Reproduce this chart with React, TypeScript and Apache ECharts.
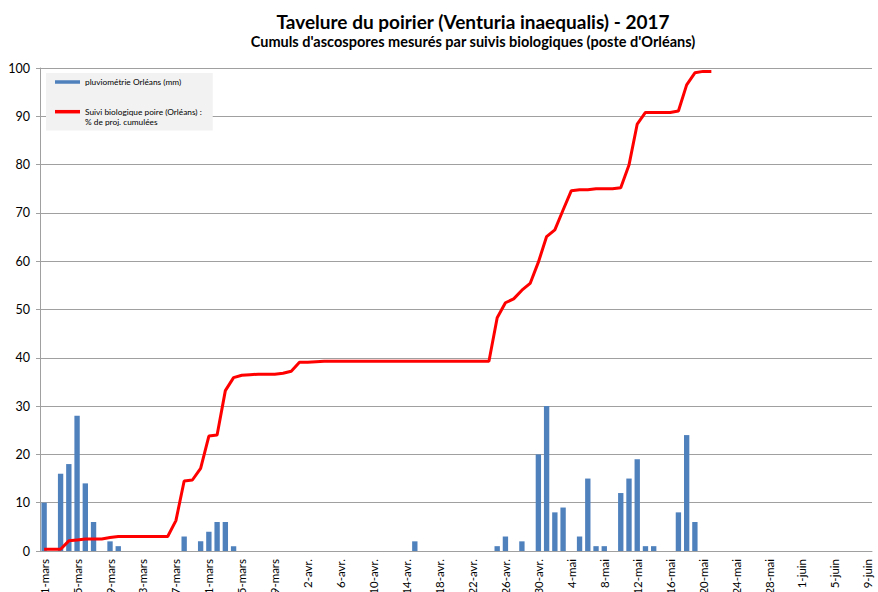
import React, { useEffect, useRef } from "react";
import * as echarts from "echarts";

// ---- Data ----
const monthNames = ["mars", "avr.", "mai", "juin"];
const monthDays = [31, 30, 31, 9];

// Daily rainfall (mm), Orléans
const pluieMars = [10, 0, 16, 18, 28, 14, 6, 0, 2, 1, 0, 0, 0, 0, 0, 0, 0, 3, 0, 2, 4, 6, 6, 1, 0, 0, 0, 0, 0, 0, 0];
const pluieAvril = [0, 0, 0, 0, 0, 0, 0, 0, 0, 0, 0, 0, 0, 0, 2, 0, 0, 0, 0, 0, 0, 0, 0, 0, 1, 3, 0, 2, 0, 20];
const pluieMai = [30, 8, 9, 0, 3, 15, 1, 1, 0, 12, 15, 19, 1, 1, 0, 0, 8, 24, 6, 0, 0, 0, 0, 0, 0, 0, 0, 0, 0, 0, 0];
const pluieJuin = [0, 0, 0, 0, 0, 0, 0, 0, 0];

// Cumulative % of projected ascospores (pear biological monitoring, Orléans)
const projMars = [0.35, 0.35, 0.35, 2.1, 2.3, 2.5, 2.5, 2.5, 2.8, 3.0, 3.0, 3.0, 3.0, 3.0, 3.0, 3.0, 6.3, 14.5, 14.7, 17.1, 23.8, 24.0, 33.2, 35.9, 36.4, 36.5, 36.6, 36.6, 36.6, 36.8, 37.2];
const projAvril = [39.1, 39.1, 39.2, 39.3, 39.3, 39.3, 39.3, 39.3, 39.3, 39.3, 39.3, 39.3, 39.3, 39.3, 39.3, 39.3, 39.3, 39.3, 39.3, 39.3, 39.3, 39.3, 39.3, 39.3, 48.3, 51.4, 52.2, 54.0, 55.4, 59.8];
const projMai = [65.1, 66.5, 70.6, 74.6, 74.8, 74.8, 75.0, 75.0, 75.0, 75.2, 79.9, 88.4, 90.8, 90.8, 90.8, 90.8, 91.1, 96.5, 99.0, 99.3, 99.3];

const yTicks = { min: 0, max: 100, interval: 10 };

const categories: string[] = [];
monthNames.forEach((m, mi) => {
  for (let d = 1; d <= monthDays[mi]; d++) categories.push(`${d}-${m}`);
});

const pluie = [...pluieMars, ...pluieAvril, ...pluieMai, ...pluieJuin].map((v) => (v > 0 ? v : null));
const proj = [...projMars, ...projAvril, ...projMai];

const FONT = "Lato";
const NAME_PLUIE = "pluviométrie Orléans (mm)";
const NAME_PROJ_1 = "Suivi biologique poire (Orléans) :";
const NAME_PROJ_2 = "% de proj. cumulées";
const NAME_PROJ = NAME_PROJ_1 + " " + NAME_PROJ_2;

export default function App() {
  const ref = useRef<HTMLDivElement>(null);
  useEffect(() => {
    if (!ref.current) return;
    const chart = echarts.init(ref.current, null, { renderer: "svg" });
    chart.setOption({
      animation: false,
      backgroundColor: "#ffffff",
      textStyle: { fontFamily: FONT },
      title: {
        text: "Tavelure du poirier (Venturia inaequalis) - 2017",
        subtext: "Cumuls d'ascospores mesurés par suivis biologiques (poste d'Orléans)",
        left: 468,
        top: 7,
        textAlign: "center",
        itemGap: 3,
        textStyle: { fontFamily: FONT, fontWeight: "bold", fontSize: 19, color: "#000" },
        subtextStyle: { fontFamily: FONT, fontWeight: "bold", fontSize: 14.5, color: "#000" },
      },
      legend: {
        orient: "vertical",
        left: 46,
        top: 73,
        padding: [5, 11, 4, 9],
        backgroundColor: "#F2F2F2",
        itemWidth: 25,
        itemHeight: 3.5,
        itemGap: 11,
        icon: "rect",
        data: [NAME_PLUIE, NAME_PROJ],
        formatter: (name: string) =>
          name === NAME_PROJ
            ? `{gap| }\n{a|${NAME_PROJ_1}}\n{a|${NAME_PROJ_2}}`
            : `{a|${name}}`,
        textStyle: {
          fontFamily: FONT,
          fontSize: 8.3,
          color: "#000",
          rich: {
            a: { fontFamily: FONT, fontSize: 8.3, color: "#000", lineHeight: 10.7 },
            gap: { fontSize: 8.3, lineHeight: 10.7 },
          },
        },
      },
      grid: { left: 40, right: 6, top: 68, bottom: 41, containLabel: false, outerBoundsMode: "none" },
      xAxis: {
        type: "category",
        data: categories,
        boundaryGap: true,
        axisLine: { lineStyle: { color: "#A0A0A0", width: 1 } },
        axisTick: { interval: 3, length: 5, lineStyle: { color: "#A0A0A0" } },
        axisLabel: {
          interval: 3,
          rotate: 90,
          margin: 8,
          fontFamily: FONT,
          fontSize: 11.5,
          color: "#000",
        },
        splitLine: { show: false },
      },
      yAxis: {
        type: "value",
        min: yTicks.min,
        max: yTicks.max,
        interval: yTicks.interval,
        axisLine: { show: true, lineStyle: { color: "#A0A0A0" } },
        axisTick: { show: true, length: 4, lineStyle: { color: "#A0A0A0" } },
        axisLabel: { fontFamily: FONT, fontSize: 12.5, color: "#000", margin: 10 },
        splitLine: { lineStyle: { color: "#A0A0A0", width: 1 } },
      },
      series: [
        {
          name: NAME_PLUIE,
          type: "bar",
          data: pluie,
          barWidth: "65%",
          itemStyle: { color: "#4F81BD" },
        },
        {
          name: NAME_PROJ,
          type: "line",
          data: proj,
          symbol: "none",
          showSymbol: false,
          lineStyle: { color: "#FF0000", width: 3 },
          itemStyle: { color: "#FF0000" },
        },
      ],
    });
    return () => chart.dispose();
  }, []);
  return (
    <div
      ref={ref}
      style={{ position: "fixed", left: 0, top: 0, width: 878, height: 592 }}
    />
  );
}
